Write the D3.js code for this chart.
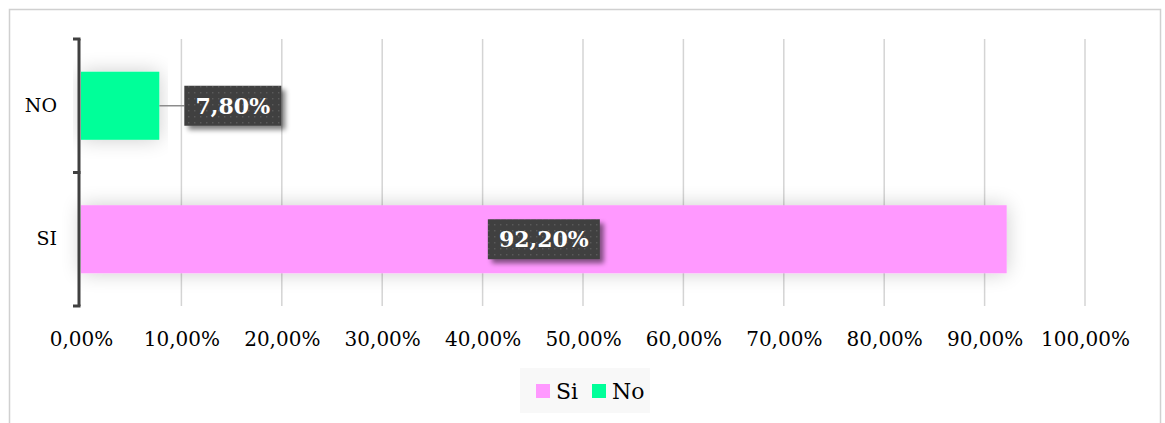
<!DOCTYPE html>
<html>
<head>
<meta charset="utf-8">
<script src="https://cdn.jsdelivr.net/npm/d3@7.9.0/dist/d3.min.js"></script>
<style>
  body { margin: 0; background: #fff; }
  svg text { font-family: "DejaVu Serif", "Liberation Serif", serif; }
</style>
</head>
<body>
<svg id="chart" width="1165" height="423"></svg>
<script>
// data
const categories = ['NO', 'SI'];
const values = [0.078, 0.922];
const barColors = ['#00ff99', '#ff99ff'];
const legendLabels = ['Si', 'No'];
const legendColors = ['#ff99ff', '#00ff99'];
const xTicks = [0, 0.1, 0.2, 0.3, 0.4, 0.5, 0.6, 0.7, 0.8, 0.9, 1.0];

const fmt = v => (v * 100).toFixed(2).replace('.', ',') + '%';

const svg = d3.select('#chart');

// outer frame
svg.append('rect')
  .attr('x', 9.5).attr('y', 9.5)
  .attr('width', 1151).attr('height', 430)
  .attr('fill', '#fff')
  .attr('stroke', '#d0d0d0')
  .attr('stroke-width', 1.5);

const defs = svg.append('defs');

// soft glow under bars
const glow = defs.append('filter').attr('id', 'glow')
  .attr('x', '-10%').attr('y', '-60%').attr('width', '120%').attr('height', '220%');
glow.append('feGaussianBlur').attr('in', 'SourceAlpha').attr('stdDeviation', 10).attr('result', 'b');
glow.append('feComponentTransfer').attr('in', 'b').attr('result', 'c')
  .append('feFuncA').attr('type', 'linear').attr('slope', 0.2);
const gm = glow.append('feMerge');
gm.append('feMergeNode').attr('in', 'c');
gm.append('feMergeNode').attr('in', 'SourceGraphic');

// drop shadow for label boxes
const shadow = defs.append('filter').attr('id', 'shadow')
  .attr('x', '-20%').attr('y', '-30%').attr('width', '150%').attr('height', '170%');
shadow.append('feGaussianBlur').attr('in', 'SourceAlpha').attr('stdDeviation', 2.5).attr('result', 'b');
shadow.append('feOffset').attr('in', 'b').attr('dx', 4).attr('dy', 4).attr('result', 'o');
shadow.append('feComponentTransfer').attr('in', 'o').attr('result', 'c')
  .append('feFuncA').attr('type', 'linear').attr('slope', 0.5);
const sm = shadow.append('feMerge');
sm.append('feMergeNode').attr('in', 'c');
sm.append('feMergeNode').attr('in', 'SourceGraphic');

// dotted dark fill for label boxes
const pat = defs.append('pattern').attr('id', 'dots')
  .attr('width', 6).attr('height', 6).attr('patternUnits', 'userSpaceOnUse');
pat.append('rect').attr('width', 6).attr('height', 6).attr('fill', '#404040');
pat.append('rect').attr('x', 2).attr('y', 2).attr('width', 1.4).attr('height', 1.4).attr('fill', '#5a5a5a');

const x = d3.scaleLinear().domain([0, 1]).range([81, 1085]);
const y = d3.scaleBand().domain(categories).range([39, 306])
  .paddingInner(0.49).paddingOuter(0.245);

// gridlines
svg.append('g')
  .selectAll('line')
  .data(xTicks.slice(1))
  .join('line')
  .attr('x1', d => x(d)).attr('x2', d => x(d))
  .attr('y1', 39).attr('y2', 306)
  .attr('stroke', '#d4d4d4')
  .attr('stroke-width', 1.5);

// bars
svg.append('g')
  .selectAll('rect')
  .data(categories)
  .join('rect')
  .attr('x', x(0))
  .attr('y', d => y(d))
  .attr('width', (d, i) => x(values[i]) - x(0))
  .attr('height', y.bandwidth())
  .attr('fill', (d, i) => barColors[i])
  .attr('filter', 'url(#glow)');

// x axis labels
const xAxis = d3.axisBottom(x).tickValues(xTicks).tickFormat(fmt).tickSize(0).tickPadding(26);
const gx = svg.append('g').attr('transform', 'translate(0,306)').call(xAxis);
gx.select('.domain').remove();
gx.selectAll('text').attr('font-size', 20).attr('fill', '#000')
  .style('font-family', '"DejaVu Serif", serif');

// y axis
const yAxis = d3.axisLeft(y).tickSize(0).tickPadding(0);
const gy = svg.append('g').attr('transform', 'translate(79,0)').call(yAxis);
gy.select('.domain').remove();
gy.selectAll('text').attr('x', -22).attr('font-size', 19).attr('fill', '#000')
  .style('font-family', '"DejaVu Serif", serif');

gy.append('line').attr('x1', 0).attr('x2', 0).attr('y1', 39).attr('y2', 306)
  .attr('stroke', '#404040').attr('stroke-width', 3);
gy.selectAll('.bnd')
  .data([39, 39 + 133.5, 306])
  .join('line')
  .attr('x1', -6).attr('x2', 1.5)
  .attr('y1', d => d).attr('y2', d => d)
  .attr('stroke', '#404040').attr('stroke-width', 3);

// data labels
const labelPos = [
  { cx: x(values[0]) + 73.5, leader: true },
  { cx: (x(0) + x(values[1])) / 2, leader: false }
];
categories.forEach((c, i) => {
  const cy = y(c) + y.bandwidth() / 2;
  const g = svg.append('g');
  const w = i === 0 ? 97 : 112;
  const cx = labelPos[i].cx;
  if (labelPos[i].leader) {
    g.append('line')
      .attr('x1', x(values[i])).attr('x2', cx - w / 2)
      .attr('y1', cy).attr('y2', cy)
      .attr('stroke', '#8c8c8c').attr('stroke-width', 1.5);
  }
  g.append('rect')
    .attr('x', cx - w / 2).attr('y', cy - 20)
    .attr('width', w).attr('height', 40)
    .attr('fill', 'url(#dots)')
    .attr('filter', 'url(#shadow)');
  g.append('text')
    .attr('x', cx).attr('y', cy + 8)
    .attr('text-anchor', 'middle')
    .attr('font-size', 22).attr('font-weight', 'bold')
    .attr('fill', '#fff')
    .text(fmt(values[i]));
});

// legend
const lg = svg.append('g');
lg.append('rect').attr('x', 520).attr('y', 368).attr('width', 130).attr('height', 45).attr('fill', '#f8f8f8');
const itemX = [536, 592];
legendLabels.forEach((l, i) => {
  lg.append('rect').attr('x', itemX[i]).attr('y', 384).attr('width', 14).attr('height', 14)
    .attr('fill', legendColors[i]);
  lg.append('text').attr('x', itemX[i] + 20).attr('y', 399)
    .attr('font-size', 22).attr('fill', '#000').text(l);
});
</script>
</body>
</html>
